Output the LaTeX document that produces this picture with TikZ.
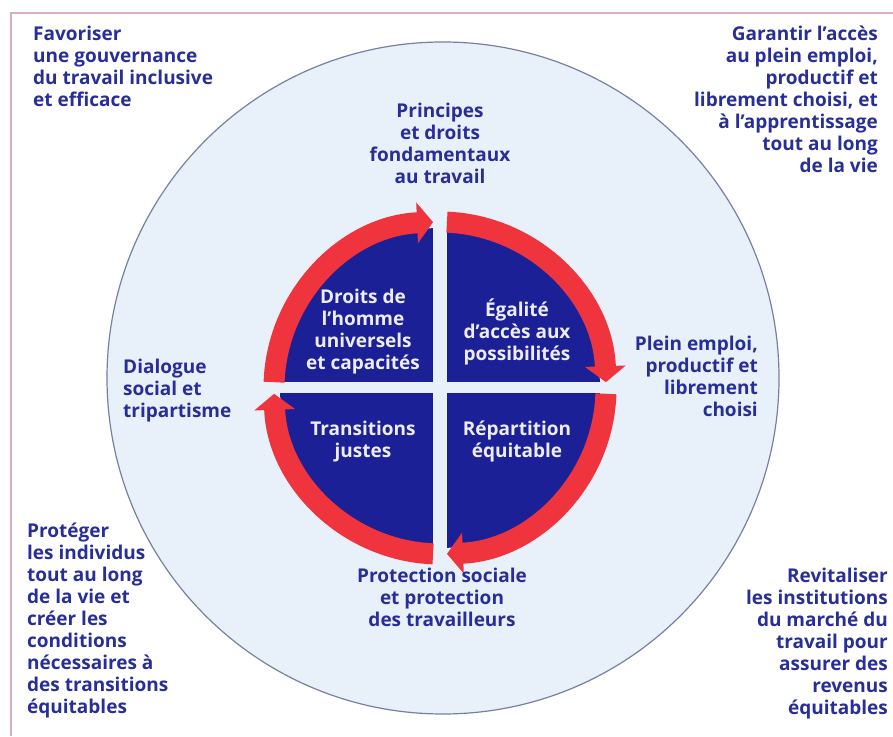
\documentclass[tikz,border=0pt]{standalone}
\usepackage{fontspec}
\setmainfont{Open Sans}
\usetikzlibrary{arrows.meta}
\definecolor{iloblue}{RGB}{40,46,152}
\definecolor{quadblue}{RGB}{28,32,150}
\definecolor{ringred}{RGB}{240,52,62}
\definecolor{paleblue}{RGB}{232,240,250}
\definecolor{framepink}{RGB}{214,176,186}
\definecolor{rimgrey}{RGB}{120,128,160}
\tikzset{
  goaltext/.style={font=\bfseries\fontsize{19}{22}\selectfont, text=iloblue, inner sep=0pt},
  pillartext/.style={goaltext, align=center},
  quadtext/.style={font=\bfseries\fontsize{19}{22}\selectfont, text=white!92!quadblue, align=center, inner sep=0pt},
  cyclearrow/.style={draw=ringred, line width=21pt, -{Triangle[length=16pt,width=40pt]}},
}

\begin{document}
\begin{tikzpicture}[x=1pt,y=1pt]
  \useasboundingbox (0,0) rectangle (893,736);
  \draw[framepink, line width=2.2pt] (11,0) -- (11,723) -- (893,723);
  \draw[rimgrey, line width=1.2pt, fill=paleblue] (443,358) circle[radius=336];

  \coordinate (hub) at (440,348);
  \fill[quadblue] (hub) circle[radius=160];
  \fill[paleblue] (433,150) rectangle (447,546);
  \fill[paleblue] (240,342.5) rectangle (640,353.5);

  \draw[cyclearrow] ([shift={(178:166)}]hub) arc[start angle=178, end angle=92.4, radius=166];
  \draw[cyclearrow] ([shift={(87.6:166)}]hub) arc[start angle=87.6, end angle=2, radius=166];
  \draw[cyclearrow] ([shift={(-2:166)}]hub) arc[start angle=-2, end angle=-87.6, radius=166];
  \draw[cyclearrow] ([shift={(-92.4:166)}]hub) arc[start angle=-92.4, end angle=-178, radius=166];

  \node[quadtext, anchor=north] (droits) at (363,447.5) {Droits de\\l'homme\\universels\\et capacités};
  \node[quadtext, anchor=north] (egalite) at (517,437.5) {Égalité\\d'accès aux\\possibilités};
  \node[quadtext, anchor=north] (transitions) at (363,315.5) {Transitions\\justes};
  \node[quadtext, anchor=north] (repartition) at (517,315.5) {Répartition\\équitable};

  \node[pillartext, anchor=north] (principes) at (440,633.5) {Principes\\et droits\\fondamentaux\\au travail};
  \node[goaltext, align=right, anchor=north east] (plein) at (758,400) {Plein emploi,\\productif et\\librement\\choisi};
  \node[goaltext, align=left, anchor=north west] (dialogue) at (123,377.5) {Dialogue\\social et\\tripartisme};
  \node[pillartext, anchor=north] (protection) at (442,168) {Protection sociale\\et protection\\des travailleurs};

  \node[goaltext, align=left, anchor=north west] (gouvernance) at (33,710.5) {Favoriser\\une gouvernance\\du travail inclusive\\et efficace};
  \node[goaltext, align=right, anchor=north east] (acces) at (878,710.5) {Garantir l'accès\\au plein emploi,\\productif et\\librement choisi, et\\à l'apprentissage\\tout au long\\de la vie};
  \node[goaltext, align=left, anchor=north west] (proteger) at (27,213.5) {Protéger\\les individus\\tout au long\\de la vie et\\créer les\\conditions\\nécessaires à\\des transitions\\équitables};
  \node[goaltext, align=right, anchor=north east] (revitaliser) at (888,168.5) {Revitaliser\\les institutions\\du marché du\\travail pour\\assurer des\\revenus\\équitables};
\end{tikzpicture}
\end{document}
